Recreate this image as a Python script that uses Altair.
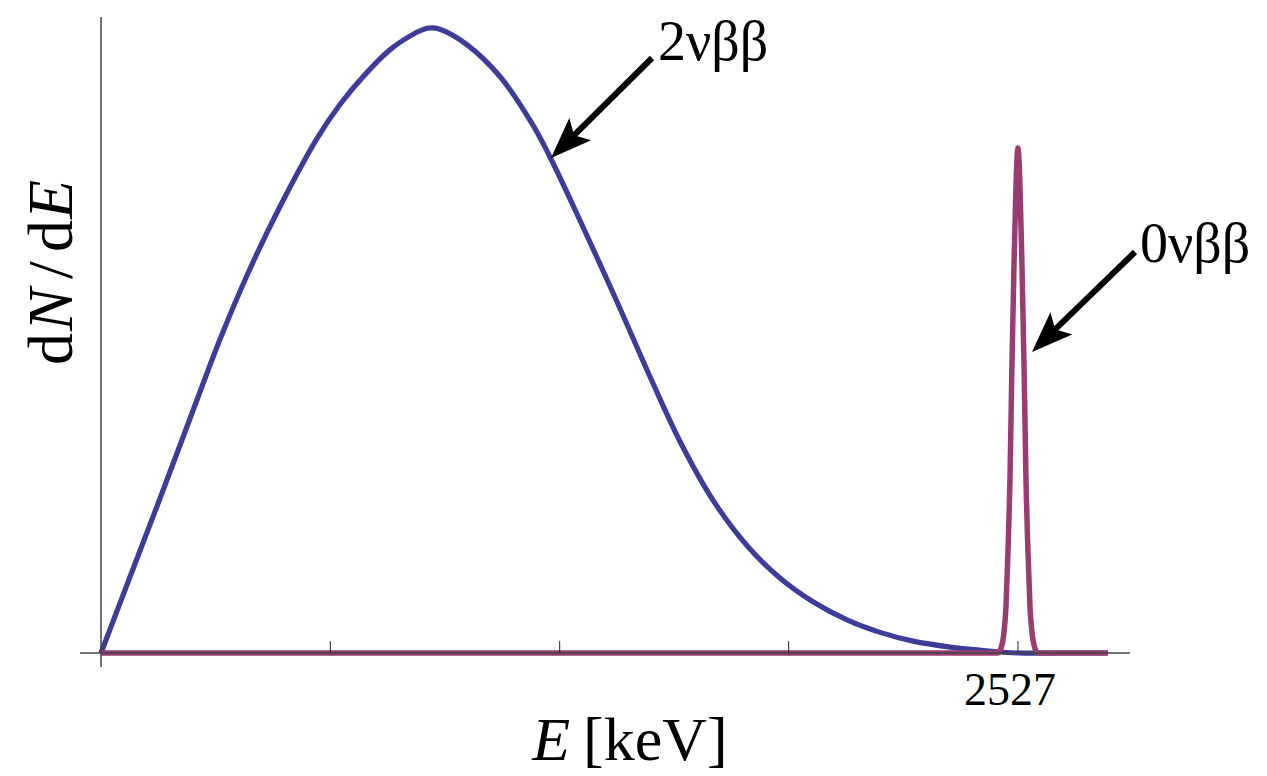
import altair as alt
import pandas as pd

# ---- data ----
Q_VALUE = 2527
E_2nu = [0, 80, 163, 251, 328, 410, 493, 595, 659, 733, 796, 851, 885, 905, 934, 1009,
         1100, 1190, 1237, 1328, 1422, 1513, 1596, 1686, 1780, 1871, 1962, 2056,
         2147, 2238, 2340, 2422, 2527, 2643, 2775]
N_2nu = [0, 0.122, 0.248, 0.384, 0.502, 0.614, 0.714, 0.823, 0.878, 0.929, 0.965,
         0.987, 0.997, 1.0, 0.998, 0.973, 0.922, 0.845, 0.794, 0.682, 0.562, 0.442, 0.338,
         0.245, 0.172, 0.120, 0.082, 0.053, 0.033, 0.019, 0.0095, 0.0045, 0.0, 0.0, 0.0]
E_0nu = [0, 2472, 2480, 2488, 2494, 2499, 2505, 2510, 2516, 2522, 2527, 2532, 2538,
         2544, 2549, 2555, 2560, 2566, 2574, 2582, 2775]
N_0nu = [0, 0, 0.007, 0.031, 0.075, 0.155, 0.28, 0.45, 0.62, 0.757, 0.808, 0.757,
         0.62, 0.45, 0.28, 0.155, 0.075, 0.031, 0.007, 0, 0]
tick_E = [632, 1264, 1895, 2527]
tick_labels = ["2527"]

BLUE = "#3D3D99"
MAGENTA = "#993D71"
AXIS = "#444444"
FONT = "Liberation Serif"

W, H = 1050, 650
xs = alt.Scale(domain=[-57.9, 2835.7], nice=False, zero=False)
ys = alt.Scale(domain=[-0.0224, 1.0176], nice=False, zero=False)

df2 = pd.DataFrame({"E": E_2nu, "N": N_2nu})
df0 = pd.DataFrame({"E": E_0nu, "N": N_0nu})
dft = pd.DataFrame({"E": tick_E})
one = pd.DataFrame({"a": [0]})

line2 = alt.Chart(df2).mark_line(color=BLUE, strokeWidth=5.2, interpolate="catmull-rom").encode(
    x=alt.X("E:Q", scale=xs, axis=None),
    y=alt.Y("N:Q", scale=ys, axis=None),
)
line0 = alt.Chart(df0).mark_line(color=MAGENTA, strokeWidth=5.5, interpolate="monotone").encode(
    x=alt.X("E:Q", scale=xs, axis=None),
    y=alt.Y("N:Q", scale=ys, axis=None),
)

xaxis = alt.Chart(one).mark_rule(color=AXIS, strokeWidth=1.5).encode(
    x=alt.value(0), x2=alt.value(W), y=alt.YDatum(0, scale=ys, axis=None)
)
yaxis = alt.Chart(one).mark_rule(color=AXIS, strokeWidth=1.5).encode(
    y=alt.value(0), y2=alt.value(H), x=alt.XDatum(0, scale=xs, axis=None)
)
ticks = alt.Chart(dft).mark_rule(color="#222222", strokeWidth=1).encode(
    x=alt.X("E:Q", scale=xs, axis=None),
    y=alt.YDatum(0, scale=ys, axis=None),
    y2=alt.Y2Datum(0.019),
)
tick_lab = alt.Chart(pd.DataFrame({"E": [Q_VALUE], "t": tick_labels})).mark_text(
    font=FONT, fontSize=46, align="center", baseline="alphabetic", dx=-8, color="black"
).encode(x=alt.X("E:Q", scale=xs, axis=None), y=alt.value(688), text="t:N")


def txt(s, x, y, size, italic=False, align="left", angle=0):
    kw = dict(font=FONT, fontSize=size, align=align, baseline="alphabetic", color="black")
    if italic:
        kw["fontStyle"] = "italic"
    if angle:
        kw["angle"] = angle
    return alt.Chart(one).mark_text(text=s, **kw).encode(x=alt.value(x), y=alt.value(y))


# x title
xt1 = txt("E", 490, 743, 62, italic=True, align="right")
xt2 = txt("[keV]", 503, 743, 62)
# y title (rotated pieces)
yt1 = txt("d", -8, 348, 64, angle=270)
yt2 = txt("N", -8, 314, 64, italic=True, angle=270)
yt3 = txt("/", -8, 262, 64, angle=270)
yt4 = txt("d", -8, 235, 64, angle=270)
yt5 = txt("E", -8, 202, 64, italic=True, angle=270)

# annotations
lab2 = txt("2νββ", 578, 43, 56)
lab0 = txt("0νββ", 1060, 245, 56)

HEAD = "M0,-1L0.72,0.9L0,0.5L-0.72,0.9Z"


def arrow(tx, ty, cx, cy, ang):
    shaft = alt.Chart(one).mark_rule(color="black", strokeWidth=6).encode(
        x=alt.value(tx), y=alt.value(ty), x2=alt.value(cx), y2=alt.value(cy)
    )
    head = alt.Chart(one).mark_point(
        shape=HEAD, filled=True, color="black", opacity=1, size=1866, angle=ang, strokeWidth=0
    ).encode(x=alt.value(cx), y=alt.value(cy))
    return shaft + head


arr2 = arrow(572, 41, 486.4, 125.8, 225.3)
arr0 = arrow(1055, 235, 967.4, 319.9, 225.6)

chart = alt.layer(
    line2, line0, xaxis, yaxis, ticks, tick_lab,
    xt1, xt2, yt1, yt2, yt3, yt4, yt5, lab2, lab0, arr2, arr0
).properties(
    width=W, height=H,
    autosize=alt.AutoSizeParams(type="none"),
    padding={"left": 80, "top": 17, "right": 137, "bottom": 109},
    background="white",
).configure_view(stroke=None)

chart.save("out.html", embed_options={"renderer": "svg", "actions": False})
